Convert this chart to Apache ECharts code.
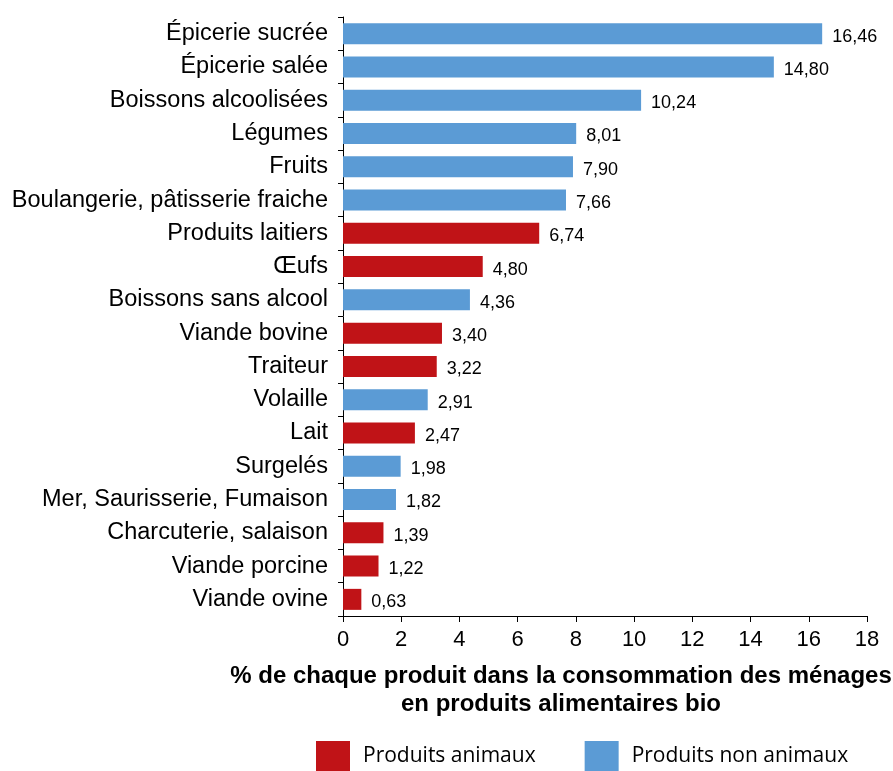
<!DOCTYPE html>
<html>
<head>
<meta charset="utf-8">
<script src="https://cdn.jsdelivr.net/npm/echarts@6/dist/echarts.min.js"></script>
<style>
  html, body { margin: 0; padding: 0; background: #fff; }
  #chart { width: 893px; height: 771px; }
</style>
</head>
<body>
<div id="chart"></div>
<script>
// catégories, de haut en bas
const categories = [
  'Épicerie sucrée', 'Épicerie salée', 'Boissons alcoolisées', 'Légumes', 'Fruits',
  'Boulangerie, pâtisserie fraiche', 'Produits laitiers', 'Œufs', 'Boissons sans alcool',
  'Viande bovine', 'Traiteur', 'Volaille', 'Lait', 'Surgelés',
  'Mer, Saurisserie, Fumaison', 'Charcuterie, salaison', 'Viande porcine', 'Viande ovine'
]
const values = [16.46, 14.80, 10.24, 8.01, 7.90, 7.66, 6.74, 4.80, 4.36, 3.40, 3.22, 2.91, 2.47, 1.98, 1.82, 1.39, 1.22, 0.63]
// a = produits animaux, n = produits non animaux
const groups = ['n', 'n', 'n', 'n', 'n', 'n', 'a', 'a', 'n', 'a', 'a', 'n', 'a', 'n', 'n', 'a', 'a', 'a']
const xTicks = [0, 2, 4, 6, 8, 10, 12, 14, 16, 18]

const RED = '#C01317'
const BLUE = '#5B9BD5'

const chart = echarts.init(document.getElementById('chart'))

const pick = g => values.map((v, i) => (groups[i] === g ? v : '-'))

const labelOpt = {
  show: true,
  position: 'right',
  distance: 10,
  offset: [0, 3],
  color: '#000',
  fontSize: 18,
  fontFamily: '"Liberation Sans", Arial, sans-serif',
  formatter: p => p.value.toFixed(2).replace('.', ',')
}

const option = {
  animation: false,
  backgroundColor: '#fff',
  grid: { left: 343, right: 26, top: 17, bottom: 155, containLabel: false },
  legend: {
    left: 316,
    top: 741,
    padding: 0,
    itemWidth: 34,
    itemHeight: 30,
    itemGap: 49,
    icon: 'rect',
    textStyle: {
      fontFamily: '"Open Sans", sans-serif',
      fontSize: 21,
      color: '#000',
      padding: [0, 0, 0, 8]
    },
    data: ['Produits animaux', 'Produits non animaux']
  },
  xAxis: {
    type: 'value',
    min: xTicks[0],
    max: xTicks[xTicks.length - 1],
    interval: 2,
    splitLine: { show: false },
    axisLine: { show: true, lineStyle: { color: '#000', width: 1 } },
    axisTick: { show: true, length: 6, lineStyle: { color: '#000' } },
    axisLabel: {
      margin: 13,
      color: '#000',
      fontSize: 22,
      fontFamily: '"Liberation Sans", Arial, sans-serif'
    }
  },
  yAxis: {
    type: 'category',
    inverse: true,
    data: categories,
    axisLine: { show: true, lineStyle: { color: '#000', width: 1 } },
    axisTick: { show: true, length: 5, lineStyle: { color: '#000' } },
    axisLabel: {
      margin: 15,
      color: '#000',
      fontSize: 23.5,
      fontFamily: '"Liberation Sans", Arial, sans-serif'
    }
  },
  graphic: [{
    type: 'text',
    x: 561,
    y: 662,
    style: {
      text: '% de chaque produit dans la consommation des ménages\nen produits alimentaires bio',
      align: 'center',
      verticalAlign: 'top',
      lineHeight: 28,
      fill: '#000',
      font: 'bold 24px "Liberation Sans", Arial, sans-serif'
    }
  }],
  series: [
    {
      name: 'Produits non animaux',
      type: 'bar',
      stack: 'all',
      barWidth: 21,
      itemStyle: { color: BLUE },
      label: labelOpt,
      data: pick('n')
    },
    {
      name: 'Produits animaux',
      type: 'bar',
      stack: 'all',
      barWidth: 21,
      itemStyle: { color: RED },
      label: labelOpt,
      data: pick('a')
    }
  ]
}

chart.setOption(option)
</script>
</body>
</html>
